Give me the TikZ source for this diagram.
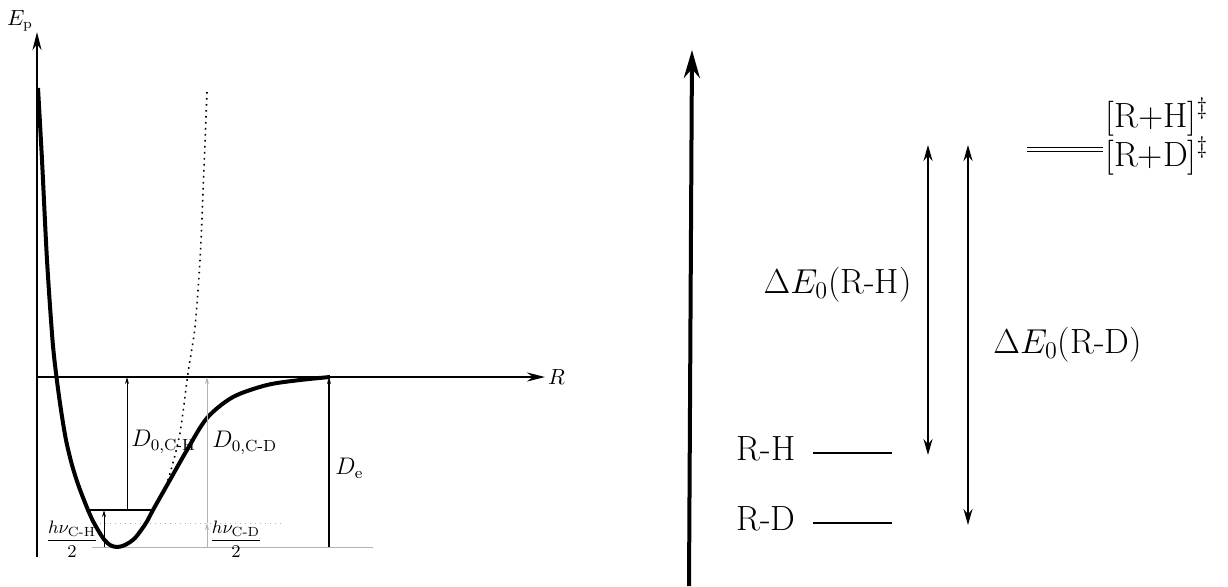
\documentclass[tikz,border=0pt]{standalone}
\usepackage{amsmath,amssymb}
\usetikzlibrary{arrows.meta}

\begin{document}
\begin{tikzpicture}[x=0.5pt, y=-0.5pt,
	every node/.style={font=\fontsize{11.5}{13}\selectfont, inner sep=1pt},
	axlab/.style={font=\fontsize{10.5}{12}\selectfont},
	frac/.style={font=\fontsize{9.5}{11}\selectfont},
	big/.style={font=\fontsize{17.5}{20}\selectfont, inner sep=0pt},
	axisarr/.style={-{Stealth[length=9pt,width=4.5pt]}, line width=1pt},
	thinarr/.style={-{Stealth[length=3.5pt,width=2pt]}, line width=0.5pt},
	guide/.style={gray!60, line width=0.5pt},
	lvlarr/.style={{Stealth[length=8pt,width=4.5pt]}-{Stealth[length=8pt,width=4.5pt]}, line width=0.9pt},
	level/.style={line width=1.3pt}]
	\useasboundingbox (0,0) rectangle (1228,586);

	% potential energy curve
	\coordinate (ybot) at (37,557);
	\coordinate (ytip) at (37,32);
	\coordinate (xbeg) at (37,377);
	\coordinate (xtip) at (545,377);
	\draw[axisarr] (ybot) -- (ytip);
	\draw[axisarr] (xbeg) -- (xtip) node[right, axlab] (rlab) {$R$};
	\node[axlab] (eplab) at (20,21) {$E_\mathrm{p}$};
	\draw[guide] (92,547) -- (373,547);
	\draw[guide, dotted] (95,523) -- (283,523);
	\draw[line width=2pt, line join=round] plot[smooth, tension=0.5] coordinates {
		(38,88) (42,160) (47,260) (52.5,340) (56.5,377) (61,410) (66,440) (72,465) (79,487)
		(88,510) (94,523) (103,538) (110,545) (117,547) (125,545) (135,538) (146,523) (153,510)
		(166,487) (187,450) (207,418) (233,397) (267,385) (300,380) (330,377)};
	\draw[line width=0.8pt, dash pattern=on 0.8pt off 2.2pt] plot[smooth] coordinates {
		(207,92) (203,193) (200,260) (195,327) (188,373) (180,433) (171,470) (166,485)};
	\coordinate (vch) at (127,510);
	\draw[line width=0.6pt] (88,510) -- (153,510);
	\draw[thinarr] (104,547) -- (104,510);
	\draw[thinarr] (vch) -- (127,377);
	\draw[thinarr, gray!60] (207,547) -- (207,523);
	\draw[thinarr, gray!60] (207,523) -- (207,377);
	\draw[thinarr, line width=0.6pt] (329,547) -- (329,377);
	\node[anchor=west] (d0h) at (129,442) {$D_{0,\text{C-H}}$};
	\node[anchor=west] (d0d) at (210,443) {$D_{0,\text{C-D}}$};
	\node[anchor=west] (de) at (333,468) {$D_\mathrm{e}$};
	\node[frac] (zph) at (72,539) {$\dfrac{h\nu_{\text{C-H}}}{2}$};
	\node[frac] (zpd) at (236,539) {$\dfrac{h\nu_{\text{C-D}}}{2}$};

	% activation energies
	\draw[line width=2pt, -{Stealth[length=14pt,width=8pt]}] (689,586) -- (692,50);
	\coordinate (tsh) at (928,145);
	\coordinate (rha) at (928,455);
	\coordinate (tsd) at (968,145);
	\coordinate (rda) at (968,525);
	\draw[line width=0.8pt, double, double distance=1.3pt] (1027,149.5) -- (1103,149.5);
	\node[big, anchor=west] (rdts) at (1105,156) {[R+D]$^\ddagger$};
	\node[big, anchor=east] (rhts) at (rdts.east |- 0,117) {[R+H]$^\ddagger$};
	\node[big, anchor=east] (rh) at (796,449) {R-H};
	\node[big, anchor=east] (rd) at (796,519) {R-D};
	\draw[level] (813,453) -- (892,453);
	\draw[level] (813,523) -- (892,523);
	\draw[lvlarr] (tsh) -- (rha);
	\draw[lvlarr] (tsd) -- (rda);
	\node[big, anchor=east] (deh) at (912,285) {$\Delta E_0$(R-H)};
	\node[big, anchor=west] (ded) at (993,345) {$\Delta E_0$(R-D)};
\end{tikzpicture}
\end{document}
